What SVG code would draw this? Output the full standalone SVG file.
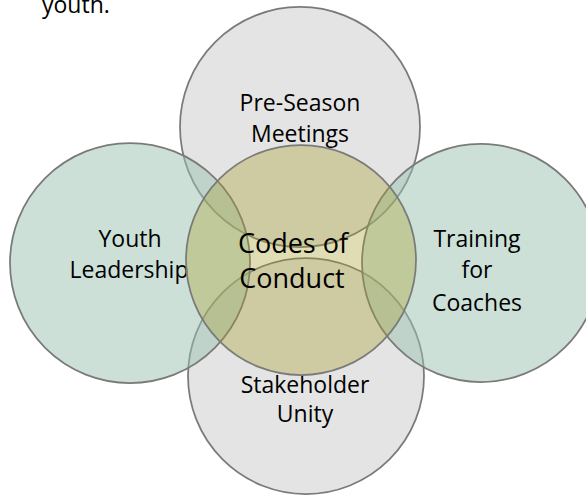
<svg xmlns="http://www.w3.org/2000/svg" width="586" height="496" viewBox="0 0 586 496">
<style>
  .gray { fill: #c9c9c9; fill-opacity: 0.5; stroke: #7a7a7a; stroke-width: 1.75; }
  .teal { fill: #99c1b1; fill-opacity: 0.5; stroke: #7a7a7a; stroke-width: 1.75; }
  .olive { fill: #a69e29; fill-opacity: 0.35; stroke: #7a7a7a; stroke-width: 1.75; }
  text { font-family: "Open Sans", "Noto Sans", sans-serif; fill: #000; text-anchor: middle; }
  .lbl { font-size: 23px; }
  .big { font-size: 27px; }
</style>
<rect width="586" height="496" fill="#ffffff"/>
<text x="42" y="13" style="text-anchor:start;font-size:23px">youth.</text>
<g id="connectors"></g>
<g id="pre-season">
  <circle class="gray" cx="300" cy="127" r="120"/>
  <text class="lbl" x="300" y="111">Pre-Season</text>
  <text class="lbl" x="300" y="142">Meetings</text>
</g>
<g id="stakeholder">
  <circle class="gray" cx="306" cy="376" r="118"/>
  <text class="lbl" x="305" y="393">Stakeholder</text>
  <text class="lbl" x="305" y="422">Unity</text>
</g>
<g id="youth">
  <circle class="teal" cx="130" cy="263" r="120"/>
  <text class="lbl" x="130" y="247">Youth</text>
  <text class="lbl" x="129" y="278">Leadership</text>
</g>
<g id="training">
  <circle class="teal" cx="481" cy="263" r="119"/>
  <text class="lbl" x="477" y="247">Training</text>
  <text class="lbl" x="477" y="278">for</text>
  <text class="lbl" x="477" y="311">Coaches</text>
</g>
<g id="codes">
  <circle class="olive" cx="301" cy="260" r="115"/>
  <text class="big" x="293" y="253">Codes of</text>
  <text class="big" x="292" y="288">Conduct</text>
</g>
</svg>
